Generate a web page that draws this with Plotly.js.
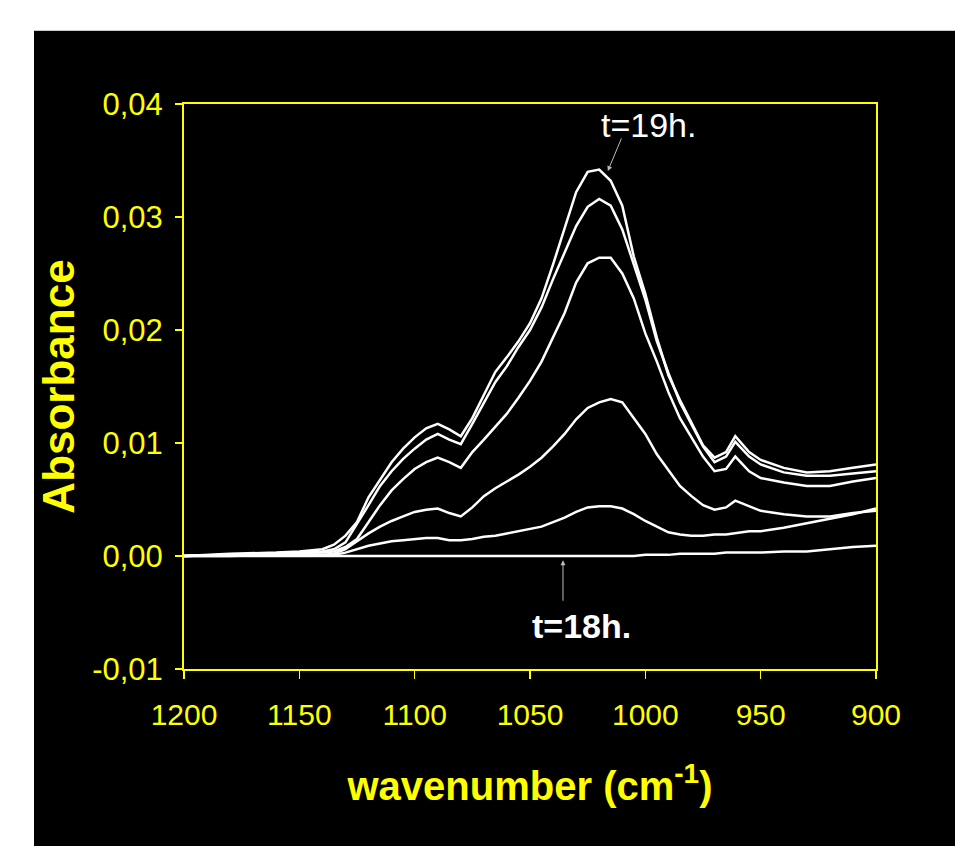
<!DOCTYPE html>
<html>
<head>
<meta charset="utf-8">
<script src="https://cdn.plot.ly/plotly-3.0.1.min.js"></script>
<style>
  html, body { margin: 0; padding: 0; background: #ffffff; }
  #chart { position: absolute; left: 34px; top: 30px; width: 921px; height: 816px; border-top: 1px solid #c8c8c8; box-sizing: border-box; }
</style>
</head>
<body>
<div id="chart"></div>
<script>
// wavenumber grid (cm-1)
const wavenumber = [1200,1180,1160,1150,1140,1135,1130,1125,1120,1115,1110,1105,1100,1095,1090,1085,1080,1075,1070,1065,1060,1055,1050,1045,1040,1035,1030,1025,1020,1015,1010,1005,1000,995,990,985,980,975,970,965,961,955,950,940,930,920,910,900];

// absorbance spectra, from t=19h (top) down to t=18h (bottom)
const abs19h = [0.0000,0.0002,0.0003,0.0004,0.0006,0.0010,0.0018,0.0030,0.0052,0.0068,0.0083,0.0095,0.0105,0.0113,0.0117,0.0112,0.0106,0.0122,0.0142,0.0163,0.0176,0.0190,0.0206,0.0228,0.0258,0.0290,0.0322,0.0340,0.0342,0.0332,0.0310,0.0265,0.0232,0.0193,0.0160,0.0138,0.0118,0.0098,0.0087,0.0092,0.0106,0.0092,0.0085,0.0078,0.0074,0.0075,0.0078,0.0081];
const absB = [0.0000,0.0001,0.0002,0.0003,0.0004,0.0006,0.0012,0.0028,0.0045,0.0062,0.0075,0.0086,0.0095,0.0103,0.0108,0.0103,0.0099,0.0117,0.0136,0.0154,0.0168,0.0185,0.0200,0.0220,0.0245,0.0268,0.0292,0.0309,0.0316,0.0310,0.0289,0.0258,0.0227,0.0190,0.0162,0.0136,0.0116,0.0097,0.0083,0.0088,0.0101,0.0088,0.0081,0.0074,0.0071,0.0071,0.0073,0.0075];
const absC = [0.0000,0.0001,0.0002,0.0002,0.0003,0.0004,0.0008,0.0015,0.0030,0.0045,0.0058,0.0068,0.0077,0.0083,0.0087,0.0083,0.0078,0.0092,0.0103,0.0115,0.0126,0.0140,0.0155,0.0172,0.0193,0.0215,0.0242,0.0259,0.0264,0.0264,0.0250,0.0228,0.0197,0.0172,0.0145,0.0122,0.0105,0.0088,0.0075,0.0077,0.0088,0.0075,0.0069,0.0065,0.0062,0.0062,0.0066,0.0069];
const absD = [0.0000,0.0001,0.0001,0.0001,0.0001,0.0002,0.0006,0.0013,0.0020,0.0026,0.0031,0.0035,0.0039,0.0041,0.0042,0.0038,0.0035,0.0043,0.0053,0.0060,0.0066,0.0072,0.0079,0.0087,0.0097,0.0108,0.0121,0.0131,0.0136,0.0139,0.0136,0.0122,0.0108,0.0090,0.0076,0.0062,0.0053,0.0045,0.0041,0.0043,0.0049,0.0044,0.0040,0.0037,0.0035,0.0035,0.0038,0.0040];
const absE = [0.0000,0.0000,0.0001,0.0001,0.0001,0.0001,0.0003,0.0006,0.0009,0.0011,0.0013,0.0014,0.0015,0.0016,0.0016,0.0014,0.0014,0.0015,0.0017,0.0018,0.0020,0.0022,0.0024,0.0026,0.0030,0.0034,0.0039,0.0043,0.0044,0.0044,0.0042,0.0037,0.0031,0.0026,0.0021,0.0019,0.0018,0.0018,0.0019,0.0019,0.0020,0.0022,0.0022,0.0025,0.0029,0.0033,0.0037,0.0042];
const abs18h = [0,0,0,0,0,0,0,0,0,0,0,0,0,0,0,0,0,0,0,0,0,0,0,0,0,0,0,0,0,0,0,0,0.0001,0.0001,0.0001,0.0002,0.0002,0.0002,0.0002,0.0003,0.0003,0.0003,0.0003,0.0004,0.0004,0.0006,0.0008,0.0009];

const seriesList = [abs19h, absB, absC, absD, absE, abs18h];
const xTicks = [1200,1150,1100,1050,1000,950,900];
const yTicks = [-0.01,0,0.01,0.02,0.03,0.04];
const yTickText = ['-0,01','0,00','0,01','0,02','0,03','0,04'];

const YEL = '#ffff00';
const ARIAL = '"Liberation Sans", Arial, sans-serif';

const traces = seriesList.map(s => ({
  x: wavenumber, y: s, type: 'scatter', mode: 'lines',
  line: {color: '#ffffff', width: 2.5}, hoverinfo: 'skip', showlegend: false
}));

const layout = {
  width: 921, height: 816,
  paper_bgcolor: '#000000', plot_bgcolor: '#000000',
  margin: {l: 150, r: 79, t: 73, b: 178},
  showlegend: false,
  xaxis: {
    range: [1200, 900], tickvals: xTicks, ticktext: xTicks.map(String),
    showgrid: false, zeroline: false,
    showline: true, linecolor: YEL, linewidth: 2, mirror: true,
    ticks: 'outside', ticklen: 8, tickcolor: YEL, tickwidth: 1.5,
    ticklabelstandoff: 10,
    tickfont: {family: ARIAL, size: 30, color: YEL},
    title: {text: 'wavenumber (cm<sup>-1</sup>)', standoff: 42,
            font: {family: ARIAL, size: 40, color: YEL, weight: 'bold'}}
  },
  yaxis: {
    range: [-0.01, 0.04], tickvals: yTicks, ticktext: yTickText,
    showgrid: false, zeroline: false, automargin: true,
    showline: true, linecolor: YEL, linewidth: 2, mirror: true,
    ticks: 'outside', ticklen: 7, tickcolor: YEL, tickwidth: 1.5,
    ticklabelstandoff: 6,
    tickfont: {family: ARIAL, size: 31, color: YEL},
    title: {text: 'Absorbance', standoff: 10,
            font: {family: ARIAL, size: 44, color: YEL, weight: 'bold'}}
  },
  annotations: [
    {x: 998.8, y: 0.0381, xref: 'x', yref: 'y', text: 't=19h.', showarrow: false,
     font: {family: ARIAL, size: 34, color: '#ffffff'}},
    {x: 1016.6, y: 0.0339, xref: 'x', yref: 'y', text: '', showarrow: true,
     ax: 15, ay: -36, arrowhead: 2, arrowsize: 1, arrowwidth: 1, arrowcolor: '#bbbbbb', standoff: 2},
    {x: 1027.5, y: -0.0062, xref: 'x', yref: 'y', text: '<b>t=18h.</b>', showarrow: false,
     font: {family: ARIAL, size: 34, color: '#ffffff'}},
    {x: 1035.7, y: -0.0002, xref: 'x', yref: 'y', text: '', showarrow: true,
     ax: 0, ay: 44, arrowhead: 2, arrowsize: 1, arrowwidth: 1, arrowcolor: '#bbbbbb', standoff: 2}
  ]
};

Plotly.newPlot('chart', traces, layout, {displayModeBar: false, staticPlot: true});
</script>
</body>
</html>
